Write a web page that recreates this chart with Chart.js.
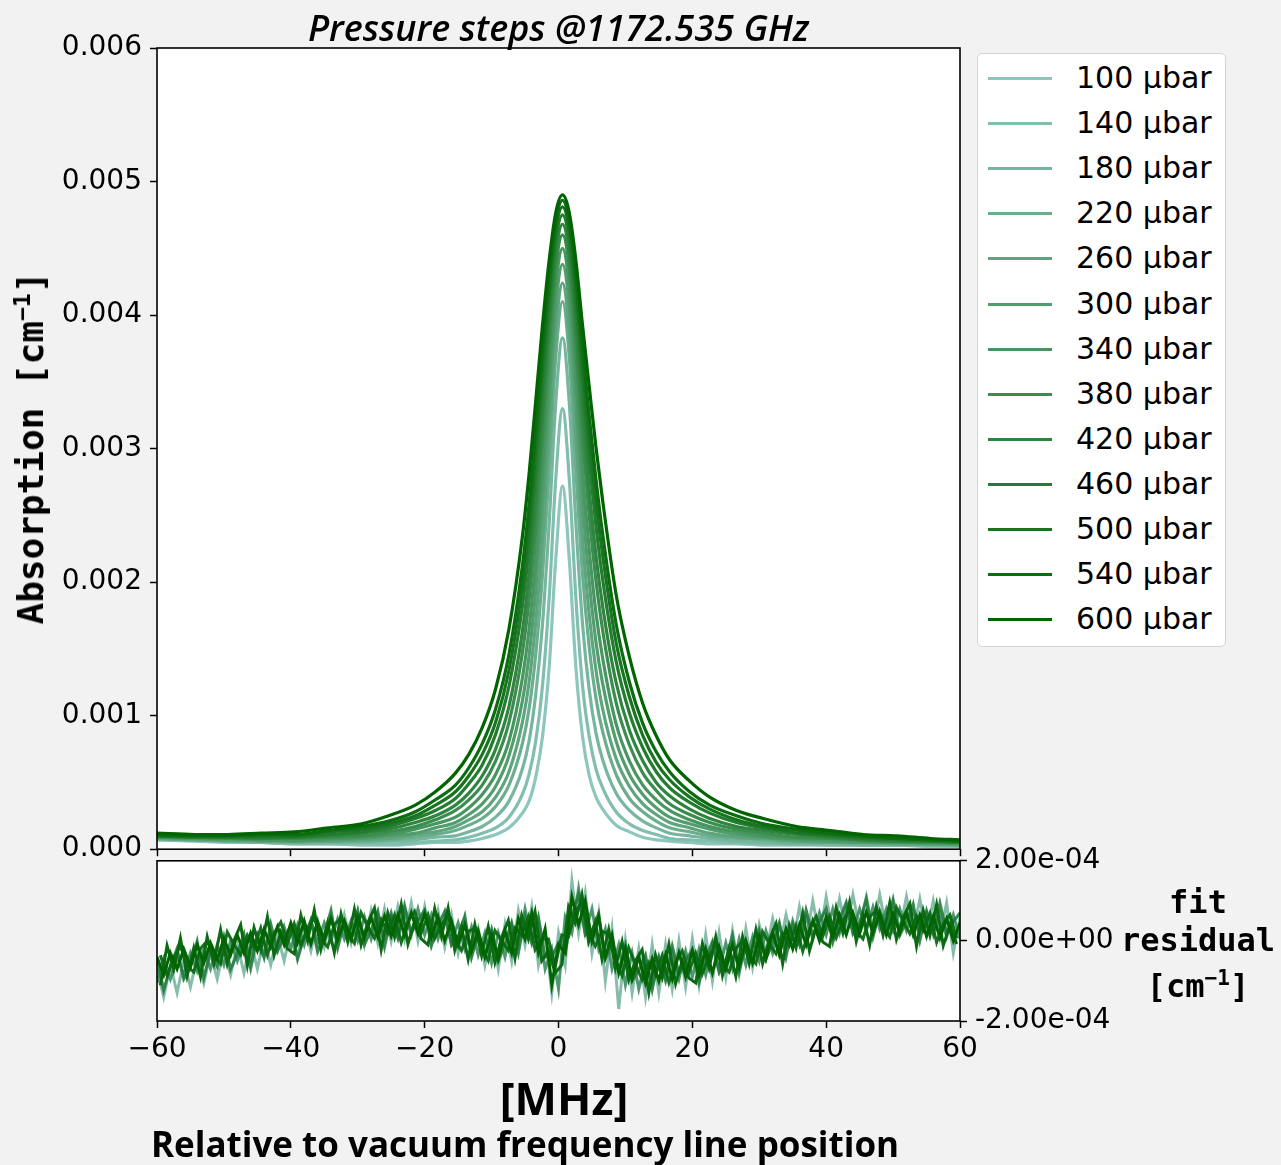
<!DOCTYPE html>
<html>
<head>
<meta charset="utf-8">
<script src="https://cdn.jsdelivr.net/npm/chart.js@4/dist/chart.umd.min.js"></script>
<style>
  body { margin: 0; background: #f2f2f2; width: 1281px; height: 1165px; overflow: hidden; position: relative; }
  canvas { position: absolute; left: 0; }
  #top { top: 0; }
  #bottom { top: 836px; }
  .txt { position: absolute; color: #000; white-space: nowrap; }
  #title { left: 157px; width: 803px; top: 3px; text-align: center; font: italic 600 36px "Open Sans"; }
  #ylabel { left: 30px; top: 448px; transform: translate(-50%, -50%) rotate(-90deg); font: bold 36px "DejaVu Sans Mono"; }
  #xlabel { left: 564px; top: 1097px; transform: translate(-50%, -50%); font: bold 45px "Open Sans"; }
  #xsub { left: 525px; top: 1143px; transform: translate(-50%, -50%); font: bold 35px "Open Sans"; }
  #rlabel { left: 1198px; top: 944px; transform: translate(-50%, -50%); text-align: center; font: bold 32px/38px "DejaVu Sans Mono"; }
  #legend { position: absolute; left: 977px; top: 53px; width: 247px; height: 592px; background: #fff;
            border: 1.5px solid #d4d4d4; border-radius: 5px; }
  .item { position: absolute; left: 0; height: 40px; width: 247px; }
  .item span.ln { position: absolute; left: 10px; top: 18px; width: 64px; height: 3px; }
  .item span.tx { position: absolute; left: 98px; top: 1px; font: 30px "DejaVu Sans"; color: #000; }
</style>
</head>
<body>
<canvas id="top" width="1281" height="874"></canvas>
<canvas id="bottom" width="1281" height="329"></canvas>
<div class="txt" id="title">Pressure steps @1172.535 GHz</div>
<div class="txt" id="ylabel">Absorption [cm<sup style="font-size:23px">−1</sup>]</div>
<div class="txt" id="xlabel">[MHz]</div>
<div class="txt" id="xsub">Relative to vacuum frequency line position</div>
<div class="txt" id="rlabel">fit<br>residual<br>[cm<sup style="font-size:21px">−1</sup>]</div>
<div id="legend"></div>
<script>
// frequency grid of the spectra (MHz), peak sits near +0.6
const freqMHz = [-60,-54.4,-49.4,-44.4,-39.4,-34.4,-29.4,-25.4,-21.4,-18.4,-15.4,-13.4,-11.4,-9.4,-7.4,-5.4,
  -4.4,-3.4,-2.4,-1.4,-0.4,0.6,1.6,2.6,3.6,4.6,5.6,
  6.6,8.6,10.6,12.6,14.6,16.6,19.6,22.6,26.6,30.6,35.6,40.6,45.6,50.6,55.6,60];

const pressures = [100, 140, 180, 220, 260, 300, 340, 380, 420, 460, 500, 540, 600];

// absorption, units of 1e-5 cm^-1
const abs100 = [7,6,5,5,4,4,3,3,4,5,5,6,8,11,16,27, 36,54,84,136,218,272,218,136,84,55,39, 30,18,13,9,7,6,5,4,4,3,3,3,3,3,2,2];
const abs140 = [7,7,6,5,4,4,4,4,5,6,7,9,12,16,24,41, 56,81,122,188,278,330,278,188,122,84,60, 46,28,19,14,11,8,7,6,5,4,4,3,3,3,3,2];
const abs180 = [8,7,6,5,5,5,5,6,7,9,10,13,17,24,36,60, 81,116,168,244,335,383,335,244,168,119,87, 67,42,29,21,16,12,10,8,6,5,4,4,3,3,3,3];
const abs220 = [8,7,6,6,5,6,6,7,9,11,14,18,23,32,48,79, 105,146,205,284,369,410,369,284,205,151,113, 88,56,38,28,21,16,13,10,8,7,5,5,4,4,3,3];
const abs260 = [8,7,7,6,6,6,7,8,11,13,17,22,28,39,58,95, 125,170,232,310,388,424,388,310,232,175,134, 105,68,47,34,26,20,16,12,9,8,6,5,5,4,4,3];
const abs300 = [9,8,7,7,6,7,8,10,12,16,20,26,34,47,70,111, 145,194,259,335,407,438,407,335,259,200,155, 124,81,56,41,31,24,19,15,11,9,7,6,5,5,4,4];
const abs340 = [9,8,8,7,7,8,9,11,15,19,24,31,41,56,81,128, 165,217,283,356,422,450,422,356,283,224,177, 143,94,66,48,37,29,22,17,13,10,8,7,6,5,5,4];
const abs380 = [9,9,8,8,8,9,10,13,17,22,29,37,48,66,95,147, 187,241,307,377,436,460,436,377,307,249,201, 164,110,78,57,44,34,26,20,15,12,9,8,7,6,5,5];
const abs420 = [10,9,9,8,9,10,12,15,20,25,33,42,55,75,107,163, 206,261,326,392,446,468,446,392,326,269,220, 182,125,89,66,50,40,30,23,17,14,11,9,7,6,6,5];
const abs460 = [10,9,9,9,9,11,13,17,23,29,38,49,63,86,122,182, 226,282,346,407,456,475,456,407,346,291,242, 202,141,102,76,58,46,35,27,20,16,12,10,8,7,6,5];
const abs500 = [10,10,10,10,10,13,15,19,25,33,43,55,71,95,134,197, 242,299,361,419,464,481,464,419,361,308,260, 220,155,114,85,65,52,39,30,22,17,13,11,9,8,7,6];
const abs540 = [11,10,10,11,11,14,17,21,28,37,48,61,79,105,146,212, 258,315,375,429,470,486,470,429,375,324,277, 236,169,125,94,73,58,43,33,25,19,15,12,10,8,7,6];
const abs600 = [12,11,11,12,13,16,19,25,33,43,57,71,91,120,165,234, 281,336,392,441,477,490,477,441,392,346,301, 261,191,144,109,85,67,51,39,29,23,17,14,11,10,8,7];

const spectra = [abs100, abs140, abs180, abs220, abs260, abs300, abs340, abs380, abs420, abs460, abs500, abs540, abs600];

// fit residuals, units of 1e-6 cm^-1
const residMHz = [-60,-59,-58,-57,-56,-55,-54,-53,-52,-51,-50,-49,-48,-47,-46,-45,-44,-43,-42,-41,
  -40,-39,-38,-37,-36,-35,-34,-33,-32,-31,-30,-29,-28,-27,-26,-25,-24,-23,-22,-21,
  -20,-19,-18,-17,-16,-15,-14,-13,-12,-11,-10,-9,-8,-7,-6,-5,-4,-3,-2,-1,0,
  1,2,3,4,5,6,7,8,9,10,11,12,13,14,15,16,17,18,19,20,21,22,23,24,25,26,27,28,29,30,
  31,32,33,34,35,36,37,38,39,40,41,42,43,44,45,46,47,48,49,50,51,52,53,54,55,56,57,58,59,60];
const residMHzHalf = [-59.5,-58.5,-57.5,-56.5,-55.5,-54.5,-53.5,-52.5,-51.5,-50.5,-49.5,-48.5,-47.5,-46.5,-45.5,-44.5,-43.5,-42.5,-41.5,-40.5,
  -39.5,-38.5,-37.5,-36.5,-35.5,-34.5,-33.5,-32.5,-31.5,-30.5,-29.5,-28.5,-27.5,-26.5,-25.5,-24.5,-23.5,-22.5,-21.5,-20.5,
  -19.5,-18.5,-17.5,-16.5,-15.5,-14.5,-13.5,-12.5,-11.5,-10.5,-9.5,-8.5,-7.5,-6.5,-5.5,-4.5,-3.5,-2.5,-1.5,-0.5,
  0.5,1.5,2.5,3.5,4.5,5.5,6.5,7.5,8.5,9.5,10.5,11.5,12.5,13.5,14.5,15.5,16.5,17.5,18.5,19.5,
  20.5,21.5,22.5,23.5,24.5,25.5,26.5,27.5,28.5,29.5,30.5,31.5,32.5,33.5,34.5,35.5,36.5,37.5,38.5,39.5,
  40.5,41.5,42.5,43.5,44.5,45.5,46.5,47.5,48.5,49.5,50.5,51.5,52.5,53.5,54.5,55.5,56.5,57.5,58.5,59.5];
const residLight = [-70,-140,-60,-130,-50,-115,-40,-105,-30,-95, -20,-85,-10,-80,0,-70,5,-60,15,-50,
  25,-40,40,-25,50,-15,60,-10,65,-5, 70,-10,75,-5,80,0,85,5,95,0,
  85,-5,75,-15,65,-30,55,-40,30,-60, 25,-70,40,-50,75,-10,85,-60,20,-130, 20,
  -60,150,20,120,-30,70,-100,30,-170,0, -130,-20,-140,-10,-130,-10,-120,0,-115,5,
  -110,15,-100,20,-90,25,-80,30,-65,40, -30,55,-20,65,-10,85,0,100,10,110,
  20,105,25,115,30,110,25,115,30,105, 25,110,20,105,15,100,10,95,-30,60];
const residMid = [-105,-45,-95,-40,-85,-30,-75,-20,-70,-10, -60,0,-50,5,-45,15,-35,25,-25,35,
  -20,40,-10,50,-5,45,0,55,5,50, 0,60,5,65,10,70,10,75,15,80,
  15,65,5,60,-5,45,-20,35,-35,20, -55,20,-40,40,-10,80,0,45,-70,-20, -120,
  60,20,130,20,80,-20,30,-70,-10,-110, -30,-120,-50,-110,-40,-100,-30,-95,-25,-90,
  -20,-85,-10,-75,-5,-70,5,-60,10,-50, 25,-30,40,-20,50,-5,60,5,70,15,
  80,20,85,25,80,25,85,30,80,25, 80,25,75,25,70,20,70,10,65,5];
const residMid2 = [-43,-123,-64,-19,-95,-65,-1,-92,-23,-64, 10,-71,-32,17,-69,10,-42,42,-25,9,
  37,-46,10,52,-27,15,76,-18,48,4, 75,-9,27,74,-15,61,7,88,20,51,
  77,-12,38,74,-11,10,62,-40,17,-35, 27,-50,-8,45,-30,60,-5,60,-40,-40, -5,
  -30,65,115,15,25,68,-45,-5,-75,-10, -100,-73,-35,-122,-43,-95,-13,-81,-49,-22,
  -104,-45,-2,-78,-50,14,-77,-9,-50,25, -45,-5,45,-40,40,-9,77,13,49,80,
  -3,54,96,18,45,105,10,75,30,100, 14,48,92,1,75,17,94,21,48,70];
const residDark = [-40,-85,-30,-70,-20,-65,-10,-55,-5,-45, 5,-35,15,-30,20,-25,30,-15,35,-10,
  45,-5,50,-8,48,0,55,2,50,5, 60,8,58,10,62,12,65,15,70,18,
  68,10,60,0,50,-10,40,-25,25,-40, 15,-45,25,-30,55,5,70,-30,30,-110, -10,
  -30,110,40,100,0,60,-40,15,-80,-20, -95,-40,-105,-45,-100,-35,-95,-30,-90,-25,
  -85,-20,-80,-15,-70,-10,-65,0,-55,10, -45,20,-35,30,-20,40,-10,50,0,60,
  10,65,15,70,18,72,20,70,15,68, 20,70,15,65,12,62,8,55,0,45];
const residDarkHalf = [-36,-87,-42,-13,-63,-78,-19,0,-36,-57, 22,-9,-35,14,-17,32,-35,19,47,-5,
  43,-11,31,57,4,-15,41,57,18,-6, 70,36,7,53,19,65,-4,47,74,20,
  65,6,41,62,2,-24,24,31,-16,-49, 26,1,-24,32,13,60,-22,5,5,-65,
  15,10,75,95,22,-13,24,18,-48,-87, -17,-59,-97,-54,-85,-36,-104,-52,-25,-78,
  -30,-82,-38,-10,-61,-78,-19,0,-37,-57, 23,-7,-32,18,-12,38,-26,30,61,12,
  61,8,50,77,24,5,60,75,35,10, 84,49,18,62,26,69,-4,43,65,7];
const residDarkHalf2 = [-111,-12,-72,7,-88,-18,-89,10,-56,28, -58,1,40,-61,33,-23,60,-36,22,-20,
  -32,64,1,77,-21,45,-29,67,-2,79, -10,46,82,-22,69,10,91,-8,49,5,
  -10,81,11,82,-23,36,-46,41,-36,36, -54,9,51,-43,63,5,73,-50,-25,-80,
  -60,85,45,115,-3,47,-46,28,-68,-2, -97,-49,-22,-129,-35,-91,-9,-107,-50,-93,
  -105,-7,-68,10,-86,-18,-89,10,-57,28, -57,3,43,-57,38,-17,69,-25,36,-3,
  -14,83,20,97,-1,65,-10,85,15,95, 4,59,93,-13,76,14,91,-12,40,-8];

const xTicks = [-60, -40, -20, 0, 20, 40, 60];

// colour ramp light teal -> dark green
function rampColor(i) {
  const t = i / (pressures.length - 1);
  const a = [141, 198, 189], b = [0, 100, 0];
  const c = a.map((v, k) => Math.round(v + (b[k] - v) * t));
  return `rgb(${c[0]},${c[1]},${c[2]})`;
}

// white plot area + black frame
const framePlugin = {
  id: 'frame',
  beforeDraw(chart) {
    const a = chart.chartArea, ctx = chart.ctx;
    ctx.save();
    ctx.fillStyle = '#fff';
    ctx.fillRect(a.left, a.top, a.right - a.left, a.bottom - a.top);
    ctx.restore();
  },
  afterDraw(chart) {
    const a = chart.chartArea, ctx = chart.ctx;
    ctx.save();
    ctx.strokeStyle = '#000';
    ctx.lineWidth = 1.6;
    ctx.strokeRect(a.left, a.top, a.right - a.left, a.bottom - a.top);
    ctx.restore();
  }
};

const tickFont = { family: 'DejaVu Sans', size: 28 };
const gridOpts = { drawOnChartArea: false, drawTicks: true, tickLength: 7, tickColor: '#000', tickWidth: 1.5 };

new Chart(document.getElementById('top'), {
  type: 'line',
  data: {
    datasets: spectra.map((arr, i) => ({
      label: pressures[i] + ' µbar',
      data: freqMHz.map((x, k) => ({ x: x, y: arr[k] * 1e-5 })),
      borderColor: rampColor(i),
      borderWidth: 3.2,
      pointRadius: 0,
      cubicInterpolationMode: 'monotone',
      order: spectra.length - 1 - i
    }))
  },
  options: {
    responsive: false,
    animation: false,
    layout: { padding: { top: 48, right: 321, left: 0, bottom: 0 } },
    plugins: { legend: { display: false }, tooltip: { enabled: false } },
    scales: {
      x: {
        type: 'linear', min: -60, max: 60,
        afterBuildTicks: (s) => { s.ticks = xTicks.map(v => ({ value: v })); },
        ticks: { display: false },
        grid: gridOpts,
        border: { display: false },
        afterFit: (s) => { s.height = 23; }
      },
      y: {
        min: 0, max: 0.006,
        ticks: { stepSize: 0.001, autoSkip: false, color: '#000', font: tickFont, padding: 8,
                 callback: (v) => Number(v).toFixed(3) },
        grid: gridOpts,
        border: { display: false },
        afterFit: (s) => { s.width = 157; }
      }
    }
  },
  plugins: [framePlugin]
});

function sciLabel(v) {
  if (Math.abs(v) < 1e-12) return '0.00e+00';
  const s = v.toExponential(2);
  const [m, e] = s.split('e');
  const sign = e[0] === '-' ? '-' : '+';
  const digits = e.replace(/[+-]/, '').padStart(2, '0');
  return m + 'e' + sign + digits;
}

const residSets = [
  { x: residMHz, data: residLight, color: 'rgba(112,178,155,0.85)' },
  { x: residMHz, data: residMid, color: 'rgba(60,140,95,0.9)' },
  { x: residMHz, data: residMid2, color: 'rgba(35,122,62,0.9)' },
  { x: residMHzHalf, data: residDarkHalf2, color: '#0b6a12' },
  { x: residMHzHalf, data: residDarkHalf, color: 'rgba(10,105,20,0.95)' },
  { x: residMHz, data: residDark, color: '#006400' }
];

new Chart(document.getElementById('bottom'), {
  type: 'line',
  data: {
    datasets: residSets.map((r, i) => ({
      data: r.x.map((x, k) => ({ x: x, y: r.data[k] * 1e-6 })),
      borderColor: r.color,
      borderWidth: 3,
      pointRadius: 0,
      tension: 0,
      order: residSets.length - 1 - i
    }))
  },
  options: {
    responsive: false,
    animation: false,
    layout: { padding: { top: 11, left: 157, right: 0, bottom: 0 } },
    plugins: { legend: { display: false }, tooltip: { enabled: false } },
    scales: {
      x: {
        type: 'linear', min: -60, max: 60,
        afterBuildTicks: (s) => { s.ticks = xTicks.map(v => ({ value: v })); },
        ticks: { color: '#000', font: tickFont, padding: 5, maxRotation: 0,
                 callback: (v) => v < 0 ? '\u2212' + Math.abs(v) : String(v) },
        grid: gridOpts,
        border: { display: false },
        afterFit: (s) => { s.height = 144; }
      },
      y: {
        position: 'right',
        min: -2e-4, max: 2e-4,
        afterBuildTicks: (s) => { s.ticks = [-2e-4, 0, 2e-4].map(v => ({ value: v })); },
        ticks: { color: '#000', font: tickFont, padding: 8, callback: (v) => sciLabel(v) },
        grid: gridOpts,
        border: { display: false },
        afterFit: (s) => { s.width = 321; }
      }
    }
  },
  plugins: [framePlugin]
});

// legend box
const legend = document.getElementById('legend');
pressures.forEach((p, i) => {
  const item = document.createElement('div');
  item.className = 'item';
  item.style.top = (5 + i * 45.1) + 'px';
  item.innerHTML = `<span class="ln" style="background:${rampColor(i)}"></span><span class="tx">${p} µbar</span>`;
  legend.appendChild(item);
});
</script>
</body>
</html>
